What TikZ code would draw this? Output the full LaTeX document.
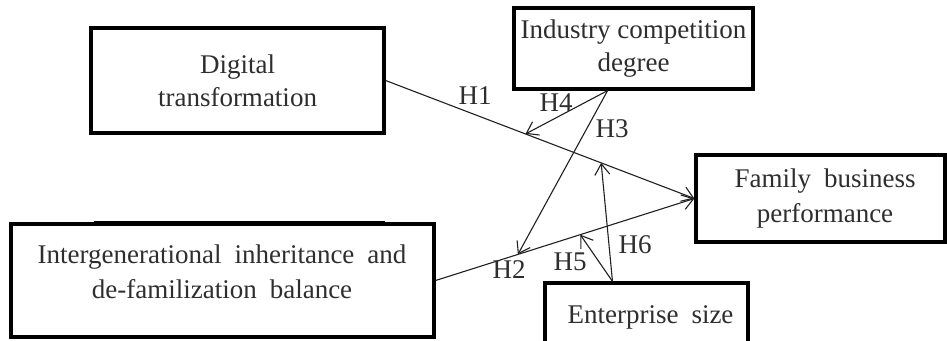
\documentclass[tikz,border=0pt]{standalone}
\usepackage{fontspec}
\setmainfont{Liberation Serif}
\usetikzlibrary{arrows.meta,calc}
\definecolor{txt}{HTML}{2E2E2E}
\definecolor{ln}{HTML}{202020}
\newcommand{\wsp}{\hspace{13pt}}
\begin{document}
\begin{tikzpicture}[x=1pt,y=-1pt,
  box/.style={draw=black,line width=3.2pt,rectangle,inner sep=0pt,text=txt,align=center,
              font=\fontsize{27}{33}\selectfont},
  txtnode/.style={text=txt,align=center,inner sep=0pt,font=\fontsize{27}{35}\selectfont},
  conn/.style={draw=ln,line width=1.1pt,-{Straight Barb[length=11pt,width=15pt,line width=1.1pt]}},
  hl/.style={text=txt,inner sep=0pt,font=\fontsize{27}{33}\selectfont}]
\useasboundingbox (0,0) rectangle (947,340);

% boxes
\node[box,minimum width=293pt,minimum height=105pt] (dt) at (237.5,80.5) {Digital\\transformation};
\node[box,minimum width=239pt,minimum height=81pt] (icd) at (633.5,48.5) {Industry competition\\degree};
\node[box,minimum width=423pt,minimum height=113pt] (ig) at (222.5,280.5) {};
\node[txtnode] (igt) at (222,272) {Intergenerational\wsp inheritance\wsp and\\de-familization\wsp balance};
\node[box,minimum width=249pt,minimum height=87pt] (fbp) at (820.5,198.5) {};
\node[txtnode] (fbpt) at (825,198.5) {Family\wsp business\\performance};
\node[box,minimum width=203pt,minimum height=68pt] (es) at (646.5,317) {\hspace*{8pt}Enterprise\wsp size};

% stray thick edge above the lower-left box
\draw[line width=3pt] (94,222) -- (385,222);

% anchor points
\coordinate (icdS) at ($(icd.south west)!0.393!(icd.south east)$);
\coordinate (esN) at ($(es.north west)!0.335!(es.north east)$);
\coordinate (p4) at ($(dt.east)!0.453!(fbp.west)$);
\coordinate (p6) at ($(dt.east)!0.698!(fbp.west)$);
\coordinate (p3) at ($(ig.east)!0.318!(fbp.west)$);
\coordinate (p5) at ($(ig.east)!0.559!(fbp.west)$);

% connectors
\draw[conn] (dt.east) -- (fbp.west);
\draw[conn] (ig.east) -- (fbp.west);
\draw[conn] (icdS) -- (p4);
\draw[conn] (icdS) -- (p3);
\draw[conn] (esN) -- (p5);
\draw[conn] (esN) -- (p6);

% labels
\node[hl] (h1) at (475,96) {H1};
\node[hl] (h4) at (556,103) {H4};
\node[hl] (h3) at (612,129) {H3};
\node[hl] (h2) at (509,270) {H2};
\node[hl] (h5) at (570,262) {H5};
\node[hl] (h6) at (635,245) {H6};
\end{tikzpicture}
\end{document}
